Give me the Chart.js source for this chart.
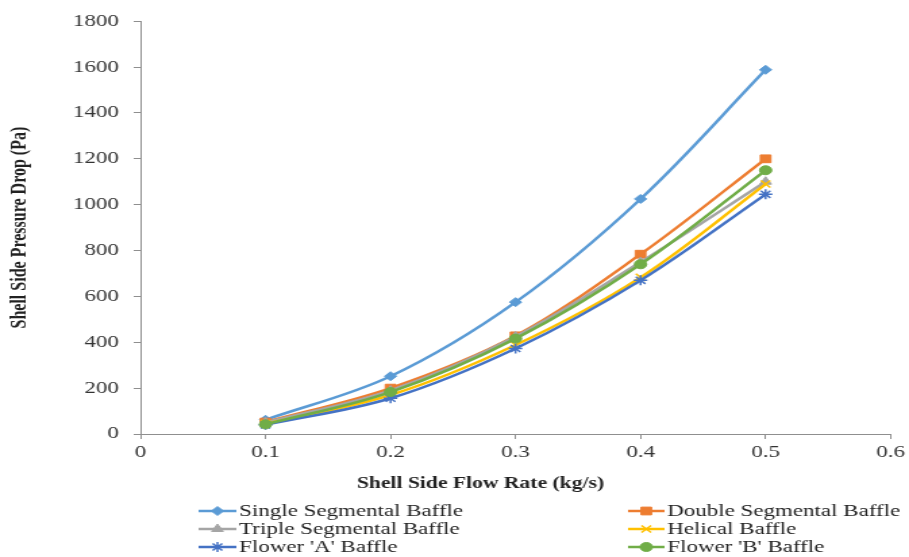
<!DOCTYPE html>
<html>
<head>
<meta charset="utf-8">
<script src="https://cdn.jsdelivr.net/npm/chart.js@4/dist/chart.umd.min.js"></script>
<style>
  html, body { margin: 0; padding: 0; background: #fff; overflow: hidden; }
  /* the reference is an Excel chart stretched sideways, so draw narrow and widen it */
  #wrap { width: 673px; height: 557px; transform: scaleX(1.3507); transform-origin: 0 0; }
  canvas { display: block; }
</style>
</head>
<body>
<div id="wrap"><canvas id="chart" width="673" height="557"></canvas></div>
<script>
const flowRates = [0.1, 0.2, 0.3, 0.4, 0.5];
const seriesNames = ['Single Segmental Baffle', 'Double Segmental Baffle', 'Triple Segmental Baffle',
    'Helical Baffle', "Flower 'A' Baffle", "Flower 'B' Baffle"];
const singleSeg = [62, 252, 575, 1025, 1588];
const doubleSeg = [52, 200, 428, 784, 1200];
const tripleSeg = [50, 190, 425, 750, 1100];
const helical = [45, 170, 388, 683, 1090];
const flowerA = [40, 156, 373, 670, 1045];
const flowerB = [42, 183, 416, 740, 1150];
const yTicks = [0, 200, 400, 600, 800, 1000, 1200, 1400, 1600, 1800];
const xTicks = [0, 0.1, 0.2, 0.3, 0.4, 0.5, 0.6];

const colors = ['#5B9BD5', '#ED7D31', '#A5A5A5', '#FFC000', '#4472C4', '#70AD47'];
const markers = ['rectRot', 'rect', 'triangle', 'crossRot', 'star', 'circle'];
const radii = [4.5, 5.5, 5, 5, 5, 4.5];
const serif = "'Liberation Serif', 'Times New Roman', serif";

const allValues = [singleSeg, doubleSeg, tripleSeg, helical, flowerA, flowerB];
const datasets = allValues.map((vals, i) => ({
    label: seriesNames[i],
    data: vals.map((v, j) => ({ x: flowRates[j], y: v })),
    borderColor: colors[i],
    backgroundColor: colors[i],
    borderWidth: 2.5,
    pointStyle: markers[i],
    pointRadius: radii[i],
    pointBorderWidth: markers[i] === 'crossRot' || markers[i] === 'star' ? 1.5 : 1,
    tension: 0.35,
    order: 5 - i,
}));

// two-column legend under the plot, like the Excel one
const legendBelow = {
    id: 'legendBelow',
    afterDraw(chart) {
        const ctx = chart.ctx;
        const rows = [511, 529, 547];
        const cols = [{ x0: 147, x1: 175, tx: 177 }, { x0: 465, x1: 492, tx: 494 }];
        ctx.save();
        ctx.font = '17px ' + serif;
        ctx.textBaseline = 'middle';
        chart.data.datasets.forEach((ds, i) => {
            const c = cols[i % 2];
            const y = rows[Math.floor(i / 2)];
            ctx.strokeStyle = ds.borderColor;
            ctx.lineWidth = 2.5;
            ctx.beginPath();
            ctx.moveTo(c.x0, y);
            ctx.lineTo(c.x1, y);
            ctx.stroke();
            ctx.fillStyle = ds.backgroundColor;
            ctx.lineWidth = ds.pointBorderWidth;
            Chart.helpers.drawPoint(ctx, { pointStyle: ds.pointStyle, radius: ds.pointRadius, borderWidth: ds.pointBorderWidth },
                (c.x0 + c.x1) / 2, y);
            ctx.fillStyle = '#222';
            ctx.fillText(ds.label, c.tx, y + 1);
        });
        ctx.restore();
    }
};

new Chart(document.getElementById('chart'), {
    type: 'line',
    data: { datasets },
    options: {
        responsive: false,
        animation: false,
        devicePixelRatio: 1,
        layout: { padding: { left: 0, right: 11, top: 19, bottom: 58 } },
        plugins: { legend: { display: false }, tooltip: { enabled: false } },
        scales: {
            x: {
                type: 'linear',
                min: 0,
                max: 0.6,
                afterBuildTicks: (s) => { s.ticks = xTicks.map((v) => ({ value: v })); },
                afterFit: (s) => { s.height = 65; },
                ticks: {
                    callback: (v) => String(+v.toFixed(1)),
                    font: { family: serif, size: 17 },
                    color: '#333',
                    padding: 3,
                    maxRotation: 0,
                },
                grid: { drawOnChartArea: false, color: '#8f8f8f', tickLength: 5 },
                border: { color: '#8f8f8f', width: 1 },
                title: {
                    display: true,
                    // trailing spaces push the centred title a little left, as in the original
                    text: 'Shell Side Flow Rate (kg/s)' + '\u00A0'.repeat(13),
                    font: { family: serif, size: 16, weight: 'bold' },
                    color: '#222',
                    padding: { top: 0, bottom: 6 },
                },
            },
            y: {
                min: 0,
                max: 1800,
                afterBuildTicks: (s) => { s.ticks = yTicks.map((v) => ({ value: v })); },
                afterFit: (s) => { s.width = 104; },
                ticks: {
                    callback: (v) => String(v),
                    font: { family: serif, size: 17 },
                    color: '#333',
                    padding: 11,
                },
                grid: { drawOnChartArea: false, color: '#8f8f8f', tickLength: 5 },
                border: { color: '#8f8f8f', width: 1 },
                title: {
                    display: true,
                    text: 'Shell Side Pressure Drop (Pa)',
                    font: { family: serif, size: 16, weight: 'bold' },
                    color: '#222',
                    padding: { top: 5, bottom: 0 },
                },
            },
        },
    },
    plugins: [legendBelow],
});
</script>
</body>
</html>
